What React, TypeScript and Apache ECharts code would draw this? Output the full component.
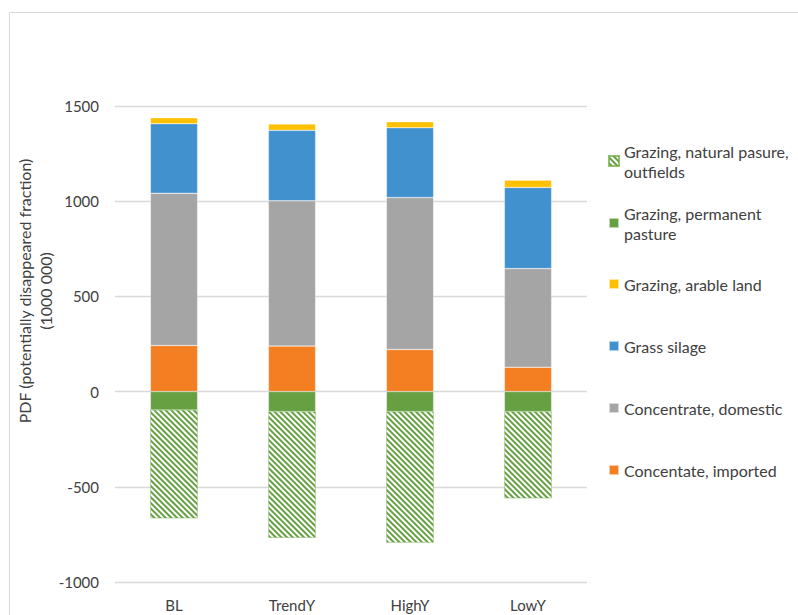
import React, { useEffect, useRef } from 'react';
import * as echarts from 'echarts';

const categories = ['BL', 'TrendY', 'HighY', 'LowY'];
const concentrateImported = [242, 239, 221, 128];
const concentrateDomestic = [800, 763, 798, 518];
const grassSilage = [365, 370, 367, 426];
const grazingArable = [31, 33, 31, 38];
const grazingPermanent = [-96, -105, -105, -105];
const grazingNatural = [-569, -662, -688, -455];
const yTickValues = [-1000, -500, 0, 500, 1000, 1500];

const seriesNames = [
  'Concentate, imported',
  'Concentrate, domestic',
  'Grass silage',
  'Grazing, arable land',
  'Grazing, permanent pasture',
  'Grazing, natural pasure, outfields',
];
const legendLabels: Record<string, string> = {
  'Grazing, natural pasure, outfields': 'Grazing, natural pasure,\noutfields',
  'Grazing, permanent pasture': 'Grazing, permanent\npasture',
};
const legendOrder = [
  'Grazing, natural pasure, outfields',
  'Grazing, permanent pasture',
  'Grazing, arable land',
  'Grass silage',
  'Concentrate, domestic',
  'Concentate, imported',
];
const legendCenters = [161, 223, 284, 346, 408, 470];

const FONT = 'Lato';
const TEXT_COLOR = '#404040';

export default function App() {
  const ref = useRef<HTMLDivElement>(null);
  useEffect(() => {
    if (!ref.current) return;
    const chart = echarts.init(ref.current, undefined, { renderer: 'svg' });
    const values = [
      concentrateImported,
      concentrateDomestic,
      grassSilage,
      grazingArable,
      grazingPermanent,
      grazingNatural,
    ];
    const colors = ['#F47F22', '#A5A5A5', '#4191CF', '#FFC000', '#66A043', '#FFFFFF'];
    const series = values.map((v, i) => {
      const s: any = {
        name: seriesNames[i],
        type: 'bar',
        stack: 'total',
        barWidth: '40%',
        data: v,
        itemStyle: { color: colors[i], borderColor: 'rgba(255,255,255,0.6)', borderWidth: 0.5 },
      };
      if (i === 5) {
        s.itemStyle = {
          color: '#FFFFFF',
          borderColor: 'rgba(112,173,71,0.5)',
          borderWidth: 0.5,
          decal: {
            symbol: 'rect',
            symbolSize: 1,
            color: '#66A043',
            dashArrayX: [1, 0],
            dashArrayY: [1.5, 1.5],
            rotation: Math.PI / 4,
          },
        };
      }
      return s;
    });
    const lineH = 20;
    const legends = legendOrder.map((name, i) => {
      const twoLine = !!legendLabels[name];
      return {
        show: true,
        left: 608,
        top: twoLine ? legendCenters[i] - lineH * 1.5 : legendCenters[i] - lineH / 2,
        padding: 0,
        orient: 'vertical',
        itemWidth: 10,
        itemHeight: 10,
        icon: 'rect',
        selectedMode: false,
        data: [name],
        formatter: (n: string) => legendLabels[n] || n,
        textStyle: {
          fontFamily: FONT,
          fontSize: 16,
          color: TEXT_COLOR,
          lineHeight: lineH,
          padding: twoLine ? [lineH, 0, 0, 0] : 0,
        },
      };
    });
    chart.setOption({
      animation: false,
      backgroundColor: '#FFFFFF',
      textStyle: { fontFamily: FONT },
      grid: { left: 115, right: 211, top: 106, bottom: 33 },
      legend: legends,
      xAxis: {
        type: 'category',
        data: categories,
        axisLine: { show: false, onZero: false },
        axisTick: { show: false },
        position: 'bottom',
        axisLabel: { fontFamily: FONT, fontSize: 15, color: TEXT_COLOR, margin: 15 },
      },
      yAxis: {
        type: 'value',
        min: yTickValues[0],
        max: yTickValues[yTickValues.length - 1],
        interval: yTickValues[1] - yTickValues[0],
        axisLine: { show: false },
        axisTick: { show: false },
        splitLine: { lineStyle: { color: '#D9D9D9', width: 1.3 } },
        axisLabel: {
          fontFamily: FONT,
          fontSize: 15,
          color: TEXT_COLOR,
          margin: 16,
          formatter: (v: number) => String(v),
        },
      },
      graphic: [
        {
          type: 'rect',
          shape: { x: 9.5, y: 12.5, width: 900, height: 700 },
          style: { fill: 'none', stroke: '#D9D9D9', lineWidth: 1 },
          silent: true,
        },
        {
          type: 'text',
          x: 35,
          y: 291,
          rotation: Math.PI / 2,
          style: {
            text: 'PDF (potentially disappeared fraction)\n(1000 000)',
            fontFamily: FONT,
            fontSize: 16,
            lineHeight: 21,
            fill: TEXT_COLOR,
            align: 'center',
            verticalAlign: 'middle',
          },
        },
      ],
      series,
    });
    return () => chart.dispose();
  }, []);
  return (
    <div
      ref={ref}
      style={{ position: 'fixed', left: 0, top: 0, width: 798, height: 615, background: '#fff' }}
    />
  );
}
